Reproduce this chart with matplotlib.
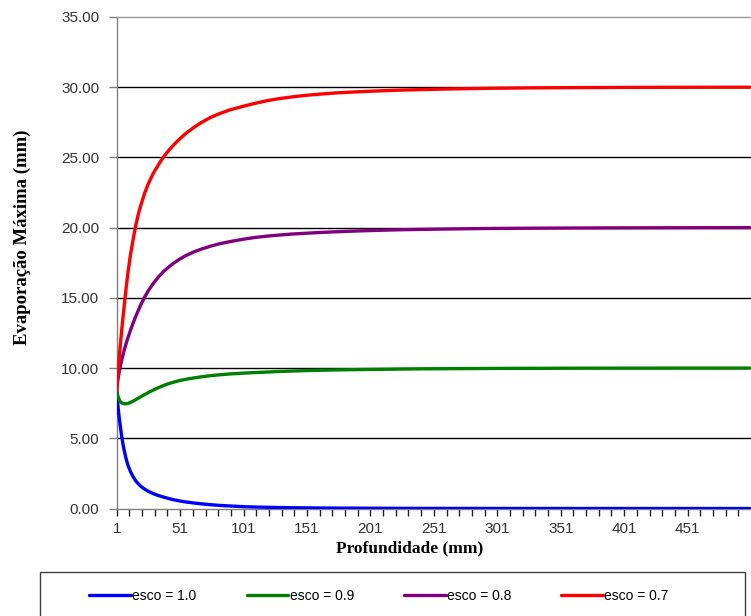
import matplotlib
matplotlib.use("Agg")
import matplotlib.pyplot as plt
from matplotlib.patches import Rectangle
from matplotlib.ticker import FixedLocator

plt.rcParams["font.family"] = ["Liberation Sans", "DejaVu Sans"]

# Depth (mm) at which each curve was sampled
depth = [1, 1.5, 2, 2.5, 3, 4, 5, 6, 7, 8, 9, 10, 12, 14, 16, 18, 20, 23, 26,
         30, 34, 38, 42, 46, 51, 56, 62, 68, 75, 82, 90, 101, 110, 120, 130,
         140, 150, 160, 175, 190, 200, 220, 240, 260, 280, 300, 330, 360, 400,
         450, 500]

# Maximum evaporation (mm) for each esco value
evap_esco_10 = [8.45, 7.85, 7.3, 6.85, 6.45, 5.75, 5.1, 4.55, 4.1, 3.7, 3.35,
                3.05, 2.6, 2.25, 1.97, 1.76, 1.58, 1.38, 1.22, 1.05, 0.92, 0.81,
                0.71, 0.62, 0.53, 0.46, 0.39, 0.33, 0.27, 0.22, 0.18, 0.13,
                0.105, 0.085, 0.068, 0.055, 0.045, 0.037, 0.028, 0.022, 0.019,
                0.014, 0.01, 0.008, 0.006, 0.004, 0.003, 0.002, 0.001, 0.0005,
                0.0]
evap_esco_09 = [8.45, 8.2, 8.0, 7.85, 7.75, 7.6, 7.52, 7.48, 7.46, 7.46, 7.47,
                7.49, 7.56, 7.65, 7.75, 7.86, 7.96, 8.11, 8.26, 8.44, 8.61, 8.76,
                8.89, 9.0, 9.12, 9.21, 9.3, 9.38, 9.46, 9.52, 9.58, 9.64,
                9.68, 9.72, 9.76, 9.79, 9.82, 9.84, 9.87, 9.89, 9.9, 9.925,
                9.945, 9.955, 9.965, 9.975, 9.983, 9.99, 9.995, 9.998, 10.0]
evap_esco_08 = [8.45, 8.85, 9.2, 9.5, 9.75, 10.2, 10.6, 10.95, 11.3, 11.62,
                11.92, 12.2, 12.73, 13.22, 13.68, 14.1, 14.5, 15.05, 15.52,
                16.05, 16.5, 16.88, 17.2, 17.48, 17.78, 18.03, 18.28, 18.48,
                18.68, 18.85, 19.0, 19.18, 19.3, 19.4, 19.48, 19.55, 19.6,
                19.65, 19.71, 19.76, 19.79, 19.84, 19.875, 19.9, 19.925, 19.945,
                19.962, 19.975, 19.985, 19.995, 20.0]
evap_esco_07 = [8.45, 9.05, 9.65, 10.2, 10.75, 11.8, 12.75, 13.65, 14.5, 15.35,
                16.15, 16.9, 18.15, 19.2, 20.15, 20.95, 21.6, 22.45, 23.15,
                23.9, 24.5, 25.05, 25.5, 25.9, 26.35, 26.75, 27.15, 27.5, 27.85,
                28.12, 28.38, 28.65, 28.85, 29.05, 29.2, 29.32, 29.42, 29.5,
                29.6, 29.67, 29.71, 29.78, 29.83, 29.87, 29.9, 29.93, 29.955,
                29.97, 29.985, 29.995, 30.0]

series_labels = ["esco = 1.0", "esco = 0.9", "esco = 0.8", "esco = 0.7"]
series_colors = ["#0000FF", "#008000", "#800080", "#FF0000"]
x_tick_labels = [1, 51, 101, 151, 201, 251, 301, 351, 401, 451]
y_ticks = [0, 5, 10, 15, 20, 25, 30, 35]

W, H = 751, 616
fig = plt.figure(figsize=(W / 100, H / 100), dpi=100)
ax = fig.add_axes([116.7 / W, 1 - 508.5 / H, 1 - 116.7 / W, (508.5 - 17) / H])

series = [evap_esco_10, evap_esco_09, evap_esco_08, evap_esco_07]
handles = []
for vals, lab, col in zip(series, series_labels, series_colors):
    ln, = ax.plot(depth, vals, color=col, lw=2.4, label=lab,
                  solid_joinstyle="round", solid_capstyle="round", zorder=3)
    handles.append(ln)

ax.set_xlim(1, 501)
ax.set_ylim(0, 35)

ax.set_yticks(y_ticks)
ax.set_yticklabels([f"{v:.2f}" for v in y_ticks])
ax.xaxis.set_major_locator(FixedLocator(x_tick_labels))
ax.set_xticklabels([str(v) for v in x_tick_labels])
ax.xaxis.set_minor_locator(FixedLocator([v for v in range(11, 501, 10)
                                         if v not in x_tick_labels]))

ax.tick_params(axis="y", which="major", length=6, width=1, color="#808080",
               pad=6.5, labelsize=11, labelcolor="#333333")
ax.tick_params(axis="x", which="both", length=5, width=1, color="#202020",
               direction="out")
ax.tick_params(axis="x", which="major", pad=5, labelsize=11,
               labelcolor="#333333")

ax.spines["right"].set_visible(False)
ax.spines["top"].set_color("#9a9a9a")
ax.spines["left"].set_color("#808080")
ax.spines["bottom"].set_color("#808080")
for s in ("top", "left", "bottom"):
    ax.spines[s].set_linewidth(1.0)

ax.yaxis.grid(True, color="#000000", lw=1.0)
gl = ax.yaxis.get_gridlines()
gl[0].set_visible(False)
gl[-1].set_visible(False)
ax.set_axisbelow(True)

fig.text(410 / W, 1 - 548 / H, "Profundidade (mm)", ha="center", va="center",
         fontsize=12.5, fontweight="bold", family="Liberation Serif")
fig.text(22 / W, 1 - 237 / H, "Evaporação Máxima (mm)", ha="center",
         va="center", rotation=90, fontsize=13.5, fontweight="bold",
         family="Liberation Serif")

# Legend frame running past the bottom edge of the figure
fig.patches.append(Rectangle((40 / W, -0.05), 705 / W, 0.05 + (616 - 572) / H,
                             transform=fig.transFigure, fill=False,
                             edgecolor="#404040", lw=1.0))
fig.legend(handles=handles, loc="center", bbox_to_anchor=(379 / W, 1 - 596 / H),
           ncol=4, frameon=False, fontsize=10, handlelength=3.0,
           handletextpad=0.1, columnspacing=3.6, borderpad=0)

fig.savefig("out.png", dpi=100)
